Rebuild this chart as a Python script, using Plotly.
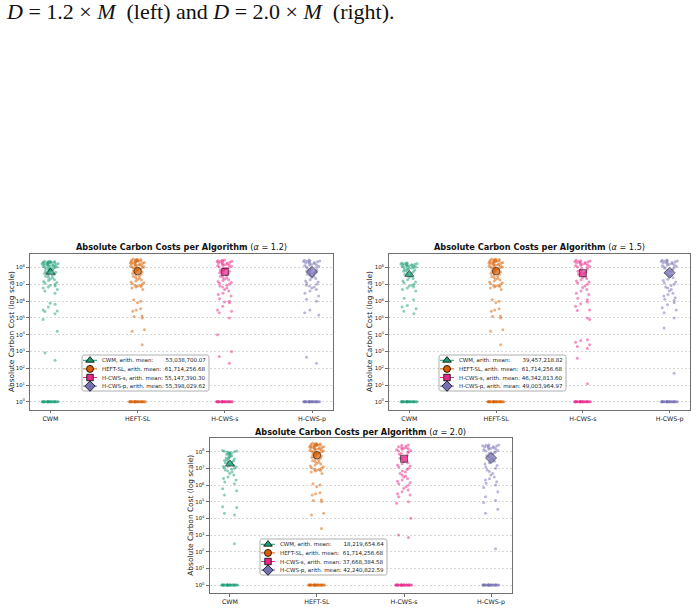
import numpy as np
import plotly.graph_objects as go

W, H = 696, 610

CATEGORIES = ["CWM", "HEFT-SL", "H-CWS-s", "H-CWS-p"]
COLORS = ["#1b9e77", "#d95f02", "#e7298a", "#7570b3"]
MEAN_SYMBOLS = ["triangle-up", "circle", "square", "diamond"]
MEAN_SIZES = [8, 7.5, 7, 8.5]
LABEL_PAD = [7, 2, 1, 1]
Y_TICKVALS = [1, 10, 100, 1e3, 1e4, 1e5, 1e6, 1e7, 1e8]
Y_TICKTEXT = ["10<sup>0</sup>", "10<sup>1</sup>", "10<sup>2</sup>", "10<sup>3</sup>",
              "10<sup>4</sup>", "10<sup>5</sup>", "10<sup>6</sup>", "10<sup>7</sup>",
              "10<sup>8</sup>"]

MEANS_12 = [53038700.07, 61714256.68, 55147390.30, 55398029.62]
MEANS_15 = [39457218.82, 61714256.68, 46342813.60, 49003964.97]
MEANS_20 = [18219654.64, 61714256.68, 37668384.58, 42240822.59]

# runs with (near) zero carbon cost, drawn at 10^0
BASELINE_ONES = [1.0, 1.0, 1.0, 1.0, 1.0, 1.0, 1.0, 1.0, 1.0, 1.0, 1.0, 1.0, 1.0,
                 1.0, 1.0, 1.0, 1.0, 1.0, 1.0, 1.0, 1.0, 1.0, 1.0, 1.0, 1.0]

HEFT_SL = [3.2e8, 3.1e8, 3.0e8, 2.9e8, 2.8e8, 2.7e8, 2.6e8, 2.5e8, 2.45e8, 2.4e8, 2.3e8, 2.2e8,
           2.1e8, 2.0e8, 1.95e8, 1.9e8, 1.8e8, 1.7e8, 1.65e8, 1.6e8, 1.5e8, 1.45e8, 1.4e8, 1.3e8,
           1.25e8, 1.2e8, 1.1e8, 1.05e8, 1.0e8, 9.5e7, 9.0e7, 8.5e7, 8.0e7, 7.5e7, 7.0e7, 6.5e7,
           6.0e7, 5.5e7, 5.0e7, 4.5e7, 4.0e7, 3.6e7, 3.2e7, 2.9e7, 2.6e7, 2.3e7, 2.0e7, 1.8e7,
           1.6e7, 1.4e7, 1.25e7, 1.1e7, 1.0e7, 9.0e6, 8.5e6, 8.0e6, 7.5e6, 7.0e6, 6.0e6, 5.0e6,
           1.2e6, 1.0e6, 8.0e5, 3.5e5, 3.0e5, 2.5e5, 1.3e5, 1.2e5, 1.0e5, 2.0e4, 1.6e4, 2.5e3]

CWM_12 = [2.4e8, 2.35e8, 2.3e8, 2.25e8, 2.2e8, 2.15e8, 2.1e8, 2.05e8, 2.0e8, 1.95e8, 1.9e8,
          1.85e8, 1.8e8, 1.75e8, 1.7e8, 1.65e8, 1.6e8, 1.55e8, 1.5e8, 1.45e8, 1.4e8, 1.35e8,
          1.3e8, 1.25e8, 1.2e8, 1.15e8, 1.1e8, 1.05e8, 1.0e8, 9.6e7, 9.2e7, 8.8e7, 8.4e7, 8.0e7,
          7.6e7, 7.2e7, 6.8e7, 6.4e7, 6.0e7, 5.6e7, 5.2e7, 4.8e7, 4.4e7, 4.0e7, 3.6e7, 3.3e7,
          3.0e7, 2.7e7, 2.4e7, 2.1e7, 1.9e7, 1.7e7, 1.5e7, 1.3e7, 1.15e7, 1.0e7, 9.0e6, 8.0e6,
          7.0e6, 6.0e6, 5.0e6, 4.0e6, 3.0e6,
          7.5e5, 6.5e5, 4.5e5, 3.0e5, 2.6e5, 2.4e5, 1.8e5, 8.0e4, 1.6e4, 8.0e2, 3.0e2]

H_CWS_S_12 = [2.8e8, 2.7e8, 2.6e8, 2.5e8, 2.4e8, 2.3e8, 2.2e8, 2.1e8, 2.0e8, 1.9e8, 1.8e8,
              1.7e8, 1.6e8, 1.5e8, 1.45e8, 1.4e8, 1.3e8, 1.2e8, 1.1e8, 1.0e8, 9.5e7, 9.0e7,
              8.5e7, 8.0e7, 7.5e7, 7.0e7, 6.5e7, 6.0e7, 5.5e7, 5.0e7, 4.5e7, 4.0e7, 3.5e7,
              3.0e7, 2.7e7, 2.4e7, 2.1e7, 1.9e7, 1.7e7, 1.5e7, 1.3e7, 1.15e7, 1.0e7, 9.0e6,
              8.0e6, 7.0e6, 6.0e6, 5.0e6, 4.0e6, 3.0e6, 2.5e6, 2.0e6,
              1.4e6, 1.0e6, 9.0e5, 8.0e5, 5.0e5, 3.0e5, 2.5e5, 2.0e5, 1.0e5, 1.0e4, 1.0e3,
              5.0e2, 2.0e2]

H_CWS_P_12 = [2.8e8, 2.7e8, 2.6e8, 2.5e8, 2.4e8, 2.3e8, 2.2e8, 2.1e8, 2.0e8, 1.9e8, 1.8e8,
              1.7e8, 1.6e8, 1.5e8, 1.4e8, 1.3e8, 1.2e8, 1.1e8, 1.0e8, 9.0e7, 8.0e7, 7.0e7,
              6.5e7, 6.0e7, 5.5e7, 5.0e7, 4.5e7, 4.0e7, 3.5e7, 3.0e7, 2.6e7, 2.2e7, 1.9e7,
              1.6e7, 1.4e7, 1.2e7, 1.0e7, 9.0e6, 8.0e6, 7.0e6, 6.0e6, 5.0e6, 4.0e6, 3.0e6,
              2.0e6, 1.3e6, 1.0e6, 3.0e5, 2.0e5, 1.5e5, 4.5e2, 2.0e2]

CWM_15 = [1.9e8, 1.85e8, 1.8e8, 1.75e8, 1.7e8, 1.65e8, 1.6e8, 1.55e8, 1.5e8, 1.45e8, 1.4e8,
          1.35e8, 1.3e8, 1.25e8, 1.2e8, 1.15e8, 1.1e8, 1.05e8, 1.0e8, 9.5e7, 9.0e7, 8.5e7,
          8.0e7, 7.5e7, 7.0e7, 6.5e7, 6.0e7, 5.5e7, 5.0e7, 4.5e7, 4.0e7, 3.5e7, 3.0e7, 2.6e7,
          2.2e7, 1.9e7, 1.6e7, 1.4e7, 1.2e7, 1.0e7, 9.0e6, 8.0e6, 7.0e6, 6.0e6, 5.0e6, 4.0e6,
          1.5e6, 1.2e6, 5.5e5, 4.5e5, 3.5e5, 2.5e5, 1.8e5]

H_CWS_S_15 = [2.8e8, 2.6e8, 2.5e8, 2.4e8, 2.3e8, 2.2e8, 2.1e8, 2.0e8, 1.9e8, 1.8e8, 1.7e8,
              1.6e8, 1.5e8, 1.4e8, 1.3e8, 1.2e8, 1.1e8, 1.0e8, 9.0e7, 8.0e7, 7.0e7, 6.0e7,
              5.5e7, 5.0e7, 4.5e7, 4.0e7, 3.5e7, 3.0e7, 2.6e7, 2.2e7, 1.9e7, 1.6e7, 1.4e7,
              1.2e7, 1.0e7, 8.0e6, 6.5e6, 5.0e6, 4.0e6, 3.0e6, 2.5e6,
              1.5e6, 1.2e6, 9.0e5, 7.0e5, 5.0e5, 3.0e5, 2.8e5, 1.0e5, 8.0e4, 5.0e3, 4.5e3,
              3.5e3, 2.5e3, 2.0e3, 1.5e3, 4.0e2, 1.2e1]

H_CWS_P_15 = [2.8e8, 2.7e8, 2.6e8, 2.5e8, 2.4e8, 2.3e8, 2.2e8, 2.1e8, 2.0e8, 1.9e8, 1.8e8,
              1.7e8, 1.6e8, 1.5e8, 1.4e8, 1.3e8, 1.2e8, 1.1e8, 1.0e8, 9.0e7, 8.0e7, 7.0e7,
              6.0e7, 5.0e7, 4.2e7, 3.5e7, 3.0e7, 2.5e7, 2.0e7, 1.7e7, 1.4e7, 1.2e7, 1.0e7,
              8.5e6, 7.0e6, 6.0e6, 5.0e6, 4.0e6, 3.0e6, 2.5e6, 2.0e6, 1.6e6, 1.3e6, 1.1e6,
              8.0e5, 6.0e5, 4.0e5, 3.0e5, 2.0e5, 1.0e5, 2.5e4, 5.0e1]

CWM_20 = [1.2e8, 1.1e8, 1.05e8, 1.0e8, 9.5e7, 9.0e7, 8.5e7, 8.0e7, 7.5e7, 7.0e7, 6.5e7, 6.0e7,
          5.5e7, 5.0e7, 4.5e7, 4.2e7, 3.9e7, 3.6e7, 3.3e7, 3.0e7, 2.8e7, 2.6e7, 2.4e7, 2.2e7,
          2.0e7, 1.8e7, 1.6e7, 1.5e7, 1.4e7, 1.3e7, 1.2e7, 1.1e7, 1.0e7, 9.0e6, 8.0e6, 7.0e6,
          6.0e6, 5.0e6, 4.0e6, 3.0e6, 2.5e6, 2.0e6, 1.5e6, 1.2e6,
          6.0e5, 4.5e5, 2.5e5, 5.0e4, 4.5e4, 2.0e4, 1.6e4, 3.0e2]

H_CWS_S_20 = [2.5e8, 2.4e8, 2.2e8, 2.0e8, 1.8e8, 1.7e8, 1.6e8, 1.5e8, 1.4e8, 1.3e8, 1.2e8,
              1.1e8, 1.0e8, 9.0e7, 8.0e7, 7.0e7, 6.0e7, 5.0e7, 4.5e7, 4.0e7, 3.5e7, 3.0e7,
              2.6e7, 2.2e7, 1.9e7, 1.6e7, 1.4e7, 1.2e7, 1.0e7, 8.5e6, 7.0e6, 6.0e6, 5.0e6,
              4.0e6, 3.5e6, 3.0e6, 2.5e6, 2.0e6, 1.7e6, 1.4e6, 1.2e6, 1.0e6, 8.0e5, 6.5e5,
              5.0e5, 4.0e5, 3.0e5, 2.5e5, 2.0e5,
              1.0e5, 8.0e4, 1.0e4, 1.0e3, 7.0e2]

H_CWS_P_20 = [2.6e8, 2.5e8, 2.4e8, 2.3e8, 2.2e8, 2.1e8, 2.0e8, 1.9e8, 1.8e8, 1.7e8, 1.6e8,
              1.5e8, 1.4e8, 1.3e8, 1.2e8, 1.1e8, 1.0e8, 9.0e7, 8.0e7, 7.0e7, 6.0e7, 5.0e7,
              4.0e7, 3.3e7, 2.7e7, 2.2e7, 1.8e7, 1.5e7, 1.2e7, 1.0e7, 8.0e6, 6.5e6, 5.0e6,
              4.0e6, 3.0e6, 2.4e6, 2.0e6, 1.6e6, 1.3e6, 1.0e6,
              7.0e5, 4.0e5, 2.0e5, 1.2e5, 9.0e4, 3.5e4, 2.0e4, 1.5e2]

# ---------------- layout constants (pixels) ----------------
FONT = "DejaVu Sans"
FRAME = "#6f6f6f"
PANELS = [
    dict(alpha="1.2", series=[CWM_12, HEFT_SL, H_CWS_S_12, H_CWS_P_12], means=MEANS_12,
         box=(30, 253.5, 332.5, 409.5), leg=(82, 355), title_y=247, ylab_x=11.5),
    dict(alpha="1.5", series=[CWM_15, HEFT_SL, H_CWS_S_15, H_CWS_P_15], means=MEANS_15,
         box=(389, 253.5, 690, 409.5), leg=(439, 355), title_y=247, ylab_x=369.5),
    dict(alpha="2.0", series=[CWM_20, HEFT_SL, H_CWS_S_20, H_CWS_P_20], means=MEANS_20,
         box=(209.5, 437.7, 511.5, 592.7), leg=(260, 539), title_y=431.5, ylab_x=190.5),
]
LEG_W, LEG_H = 127, 36
ROW0, ROW_STEP = 5.3, 8.6


def rounded_rect(x0, y0, x1, y1, r):
    xs, ys = [], []
    corners = [(x1 - r, y0 + r, -90, 0), (x1 - r, y1 - r, 0, 90),
               (x0 + r, y1 - r, 90, 180), (x0 + r, y0 + r, 180, 270)]
    for cx, cy, a0, a1 in corners:
        t = np.radians(np.linspace(a0, a1, 5))
        xs.extend(cx + r * np.cos(t))
        ys.extend(cy + r * np.sin(t))
    xs.append(xs[0]); ys.append(ys[0])
    return xs, ys


def decade_groups(values):
    """Split values by decade so that plotly's density-based jitter spreads every band."""
    vals = np.asarray(values, dtype=float)
    dec = np.floor(np.log10(vals)).astype(int)
    groups, sparse = [], []
    for d in np.unique(dec):
        sub = vals[dec == d]
        if len(sub) >= 4:
            groups.append(sub)
        else:
            sparse.extend(sub.tolist())
    if sparse:
        groups.append(np.array(sparse))
    return groups


fig = go.Figure()
annotations = []
layout_axes = {}

for pi, p in enumerate(PANELS):
    sfx = "" if pi == 0 else str(pi + 1)
    xid, yid = "x" + sfx, "y" + sfx
    bx0, by0, bx1, by1 = p["box"]
    layout_axes["xaxis" + sfx] = dict(
        domain=[bx0 / W, bx1 / W], anchor=yid, type="category",
        categoryorder="array", categoryarray=CATEGORIES, range=[-0.235, 3.235],
        showline=True, mirror=True, linecolor=FRAME, linewidth=0.8,
        ticks="outside", ticklen=3, tickwidth=0.6, tickcolor=FRAME,
        tickfont=dict(family=FONT, size=6.3, color="#222"),
        showgrid=False, zeroline=False, fixedrange=True)
    layout_axes["yaxis" + sfx] = dict(
        domain=[1 - by1 / H, 1 - by0 / H], anchor=xid, type="log",
        range=[-0.46, 8.84], tickmode="array", tickvals=Y_TICKVALS, ticktext=Y_TICKTEXT,
        showline=True, mirror=True, linecolor=FRAME, linewidth=0.8,
        ticks="outside", ticklen=3, tickwidth=0.6, tickcolor=FRAME,
        ticklabelstandoff=0,
        tickfont=dict(family=FONT, size=5.4, color="#222"),
        showgrid=True, gridcolor="#d6d6d6", gridwidth=0.6, griddash="2px,2px",
        zeroline=False, fixedrange=True)

    for ci, cat in enumerate(CATEGORIES):
        vals = p["series"][ci] + BASELINE_ONES
        for sub in decade_groups(vals):
            fig.add_trace(go.Box(
                y=sub, x0=cat, xaxis=xid, yaxis=yid, boxpoints="all", jitter=1,
                pointpos=0, width=0.2, line=dict(width=0, color="rgba(0,0,0,0)"),
                fillcolor="rgba(0,0,0,0)", whiskerwidth=0,
                marker=dict(color=COLORS[ci], size=3, opacity=0.5),
                hoverinfo="skip", showlegend=False))

    fig.add_trace(go.Scatter(
        x=CATEGORIES, y=p["means"], xaxis=xid, yaxis=yid, mode="markers",
        marker=dict(symbol=MEAN_SYMBOLS, color=COLORS, size=MEAN_SIZES,
                    line=dict(color="black", width=0.8)),
        hoverinfo="skip", showlegend=False))

    annotations.append(dict(
        xref="paper", yref="paper", x=(bx0 + bx1) / 2 / W, y=1 - p["title_y"] / H,
        xanchor="center", yanchor="middle", showarrow=False,
        text="<b>Absolute Carbon Costs per Algorithm</b> (<i>α</i> = %s)" % p["alpha"],
        font=dict(family=FONT, size=8.2, color="#111")))
    annotations.append(dict(
        xref="paper", yref="paper", x=p["ylab_x"] / W, y=1 - (by0 + by1) / 2 / H,
        xanchor="center", yanchor="middle", showarrow=False, textangle=-90,
        text="Absolute Carbon Cost (log scale)",
        font=dict(family=FONT, size=7.4, color="#222")))

    lx, ly = p["leg"]
    rx, ry = rounded_rect(lx, ly, lx + LEG_W, ly + LEG_H, 2)
    fig.add_trace(go.Scatter(
        x=rx, y=ry, xaxis="x4", yaxis="y4", mode="lines", fill="toself",
        fillcolor="rgba(255,255,255,0.85)", line=dict(color="#9a9a9a", width=0.8),
        hoverinfo="skip", showlegend=False))
    for ci, cat in enumerate(CATEGORIES):
        yy = ly + ROW0 + ci * ROW_STEP
        fig.add_trace(go.Scatter(
            x=[lx + 1, lx + 15], y=[yy, yy], xaxis="x4", yaxis="y4", mode="lines",
            line=dict(color=COLORS[ci], width=1), hoverinfo="skip", showlegend=False))
        fig.add_trace(go.Scatter(
            x=[lx + 8], y=[yy], xaxis="x4", yaxis="y4", mode="markers",
            marker=dict(symbol=MEAN_SYMBOLS[ci], color=COLORS[ci],
                        size=MEAN_SIZES[ci] - 0.5, line=dict(color="black", width=0.8)),
            hoverinfo="skip", showlegend=False))
        label = "%s, arith. mean:%s%s" % (cat, "\u00a0" * LABEL_PAD[ci],
                                          format(p["means"][ci], ",.2f"))
        annotations.append(dict(
            xref="x4", yref="y4", x=lx + 18, y=yy, xanchor="left", yanchor="middle",
            showarrow=False, text=label, font=dict(family=FONT, size=5.5, color="#222")))

layout_axes["xaxis4"] = dict(domain=[0, 1], anchor="y4", range=[0, W], visible=False,
                             fixedrange=True)
layout_axes["yaxis4"] = dict(domain=[0, 1], anchor="x4", range=[H, 0], visible=False,
                             fixedrange=True)

annotations.append(dict(
    xref="paper", yref="paper", x=4 / W, y=1 - 12 / H, xanchor="left", yanchor="middle",
    showarrow=False,
    text="<i>D</i> = 1.2 × <i>M</i>\u00a0 (left) and <i>D</i> = 2.0 × <i>M</i>\u00a0 (right).",
    font=dict(family="Liberation Serif", size=22, color="#111")))

fig.update_layout(
    width=W, height=H, margin=dict(l=0, r=0, t=0, b=0),
    paper_bgcolor="white", plot_bgcolor="rgba(0,0,0,0)",
    boxmode="overlay", showlegend=False, annotations=annotations,
    font=dict(family=FONT), **layout_axes)

fig.write_html("out.html")
